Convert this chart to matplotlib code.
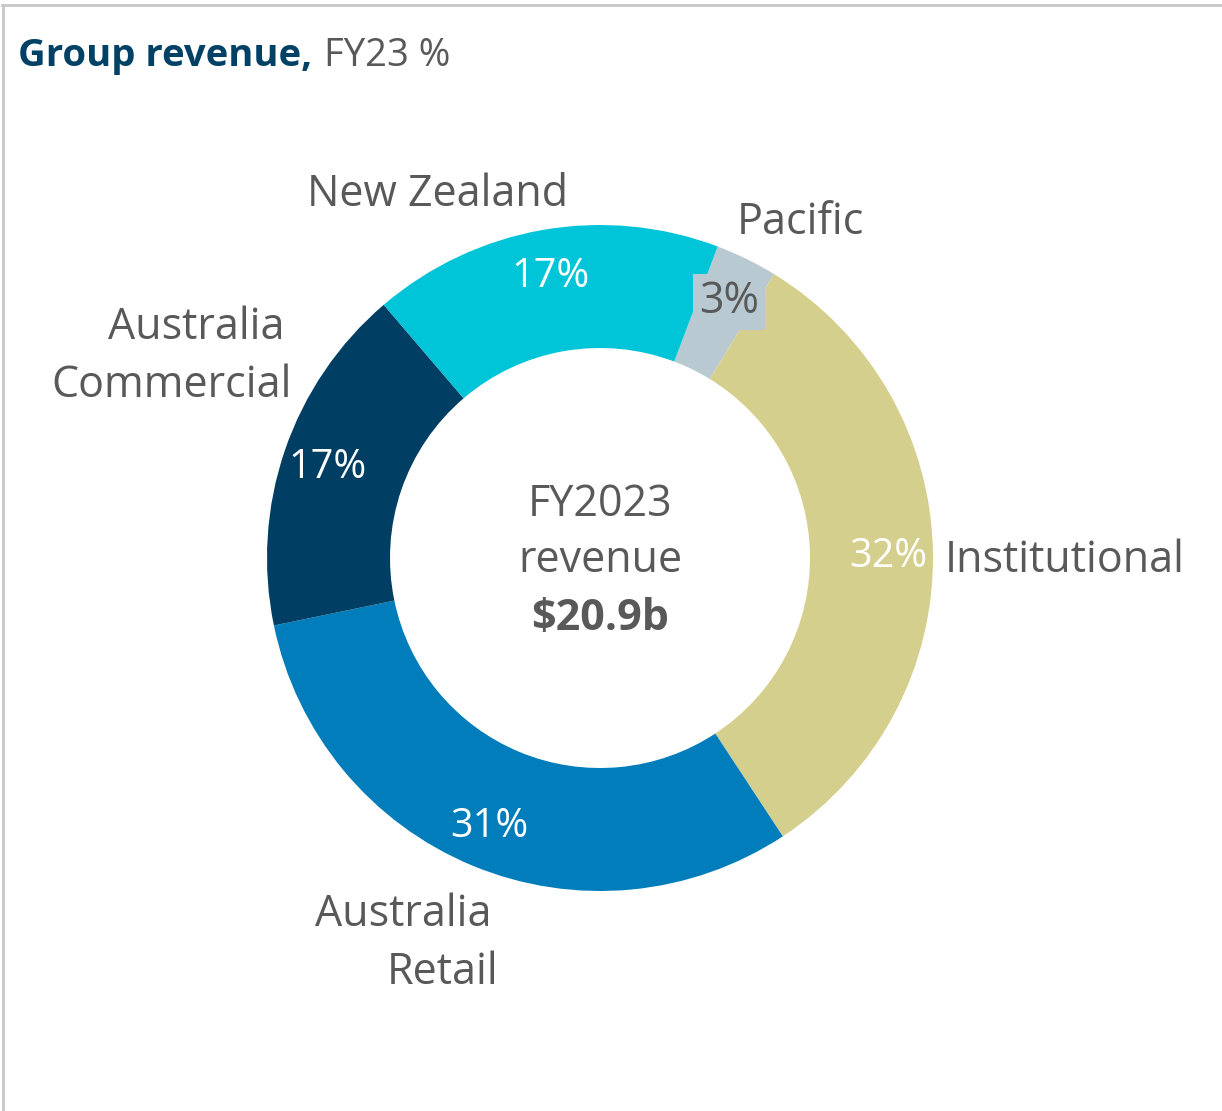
import matplotlib.pyplot as plt
from matplotlib.lines import Line2D

# data
segments = ['Pacific', 'Institutional', 'Australia Retail', 'Australia Commercial', 'New Zealand']
shares = [3, 32, 31, 17, 17]
colors = ['#b8c9d1', '#d4cf8c', '#007dba', '#003f63', '#00c4d8']
pct_colors = ['#595959', 'white', 'white', 'white', 'white']
total_label = '$20.9b'

plt.rcParams['font.family'] = ['Open Sans', 'DejaVu Sans']

W, H = 1222, 1111
fig = plt.figure(figsize=(W / 100, H / 100), dpi=100)
ax = fig.add_axes([0, 0, 1, 1])

cx, cy, r = 600, H - 558, 333
wedges, texts, autotexts = ax.pie(
    shares, colors=colors, startangle=69.3, counterclock=False,
    center=(cx, cy), radius=r, autopct='%d%%', pctdistance=0.865,
    wedgeprops=dict(width=123, linewidth=0), frame=True)
ax.set_xlim(0, W)
ax.set_ylim(0, H)
ax.set_aspect('equal')
ax.axis('off')

for t, c in zip(autotexts, pct_colors):
    t.set_color(c)
    t.set_fontsize(28.5)
    x, y = t.get_position()
    t.set_position((x, y - 3))
autotexts[0].set_fontsize(31)
autotexts[0].set_bbox(dict(facecolor=colors[0], edgecolor='none', pad=4))
autotexts[0].set_position((729, H - 302))

gray = '#595959'
dy = 3  # small nudge so text centres sit like the reference
lab = dict(color=gray, fontsize=31, va='center', ha='center')
ax.text(438, H - 192 - dy, 'New Zealand', **lab)
ax.text(800, H - 220 - dy, 'Pacific', **lab)
ax.text(945, H - 558 - dy, 'Institutional', color=gray, fontsize=31, va='center', ha='left')
ax.text(196, H - 325 - dy, 'Australia', **lab)
ax.text(172, H - 383 - dy, 'Commercial', **lab)
ax.text(403, H - 912 - dy, 'Australia', **lab)
ax.text(443, H - 970 - dy, 'Retail', **lab)

# centre text
ax.text(cx, H - 502 - dy, 'FY2023', ha='center', va='center', color=gray, fontsize=31)
ax.text(cx, H - 558 - dy, 'revenue', ha='center', va='center', color=gray, fontsize=31)
ax.text(cx, H - 615 - dy, total_label, ha='center', va='center', color=gray,
        fontsize=31, fontweight='bold')

# title
t1 = ax.text(18, H - 56, 'Group revenue,', ha='left', va='center', color='#004165',
             fontsize=27.5, fontweight='bold')
fig.canvas.draw()
bb = t1.get_window_extent()
ax.text(bb.x1 + 12, H - 56, 'FY23 %', ha='left', va='center', color=gray, fontsize=27.5)

# frame lines (top and left)
fig.add_artist(Line2D([0.002, 1], [1 - 5 / H, 1 - 5 / H], color='#c8c8c8', lw=2,
                      transform=fig.transFigure))
fig.add_artist(Line2D([3 / W, 3 / W], [0, 1 - 5 / H], color='#c8c8c8', lw=2,
                      transform=fig.transFigure))

fig.savefig('out.png', dpi=100)
